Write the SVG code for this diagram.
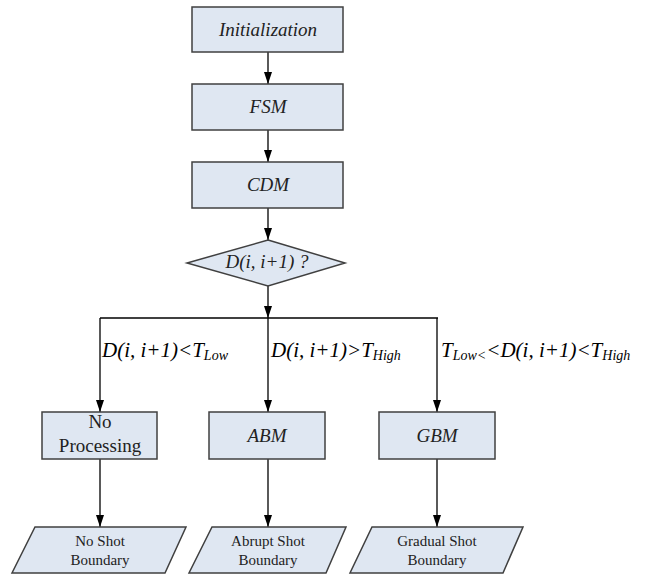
<svg xmlns="http://www.w3.org/2000/svg" width="657" height="576" viewBox="0 0 657 576">
<style>
.box{fill:#dfe7f2;stroke:#404040;stroke-width:1.5}
.ln{fill:none;stroke:#000;stroke-width:1.3}
text{font-family:'Liberation Serif','Times New Roman','DejaVu Serif',serif}
.t{fill:#222;text-anchor:middle}
.it{font-style:italic}
.lbl{font-style:italic;fill:#000;font-size:21px}
.sub{font-size:14px}
</style>
<rect width="657" height="576" fill="#fff"/>
<g id="connectors">
<path class="ln" d="M268,52 V84"/>
<path class="ln" d="M268,130 V162"/>
<path class="ln" d="M268,208 V240"/>
<path class="ln" d="M268,286 V318"/>
<path class="ln" d="M100,318 H438"/>
<path class="ln" d="M100,318 V412"/>
<path class="ln" d="M268,318 V412"/>
<path class="ln" d="M437,318 V412"/>
<path class="ln" d="M100,459 V527"/>
<path class="ln" d="M268,459 V527"/>
<path class="ln" d="M437,459 V527"/>
<g fill="#000">
<path d="M264,72 L272,72 L268,84 Z"/>
<path d="M264,150 L272,150 L268,162 Z"/>
<path d="M264,228 L272,228 L268,240 Z"/>
<path d="M264,306 L272,306 L268,318 Z"/>
<path d="M96,400 L104,400 L100,412 Z"/>
<path d="M264,400 L272,400 L268,412 Z"/>
<path d="M433,400 L441,400 L437,412 Z"/>
<path d="M96,515 L104,515 L100,527 Z"/>
<path d="M264,515 L272,515 L268,527 Z"/>
<path d="M433,515 L441,515 L437,527 Z"/>
</g>
<text class="lbl" x="102" y="357" font-family="'Liberation Serif',serif">D(i, i+1)&lt;T<tspan class="sub" dy="3">Low</tspan></text>
<text class="lbl" x="271" y="357" font-family="'Liberation Serif',serif">D(i, i+1)&gt;T<tspan class="sub" dy="3">High</tspan></text>
<text class="lbl" x="441" y="357" font-family="'Liberation Serif',serif">T<tspan class="sub" dy="3">Low&lt;</tspan><tspan dy="-3">&lt;D(i, i+1)&lt;T</tspan><tspan class="sub" dy="3">High</tspan></text>
</g>
<g id="init">
<rect class="box" x="192" y="7" width="151" height="45"/>
<text class="t it" x="268" y="36" font-size="19">Initialization</text>
</g>
<g id="fsm">
<rect class="box" x="192" y="84" width="151" height="46"/>
<text class="t it" x="268" y="113" font-size="19">FSM</text>
</g>
<g id="cdm">
<rect class="box" x="192" y="162" width="151" height="46"/>
<text class="t it" x="268" y="191" font-size="19">CDM</text>
</g>
<g id="decision">
<polygon class="box" points="268,240 345,263 268,286 187,263"/>
<text class="t it" x="267" y="268" font-size="19">D(i, i+1) ?</text>
</g>
<g id="noproc">
<rect class="box" x="42" y="412" width="115" height="47"/>
<text class="t" x="100" y="428" font-size="19">No</text>
<text class="t" x="100" y="452" font-size="19">Processing</text>
</g>
<g id="abm">
<rect class="box" x="209" y="412" width="116" height="47"/>
<text class="t it" x="267" y="442" font-size="19">ABM</text>
</g>
<g id="gbm">
<rect class="box" x="379" y="412" width="116" height="47"/>
<text class="t it" x="437" y="442" font-size="19">GBM</text>
</g>
<g id="noshot">
<polygon class="box" points="35,527 186,527 165,573 12,573"/>
<text class="t" x="100" y="546" font-size="15">No Shot</text>
<text class="t" x="100" y="565" font-size="15">Boundary</text>
</g>
<g id="abrupt">
<polygon class="box" points="212,527 346,527 326,573 189,573"/>
<text class="t" x="268" y="546" font-size="15">Abrupt Shot</text>
<text class="t" x="268" y="565" font-size="15">Boundary</text>
</g>
<g id="gradual">
<polygon class="box" points="372,527 523,527 503,573 350,573"/>
<text class="t" x="437" y="546" font-size="15">Gradual Shot</text>
<text class="t" x="437" y="565" font-size="15">Boundary</text>
</g>
</svg>
